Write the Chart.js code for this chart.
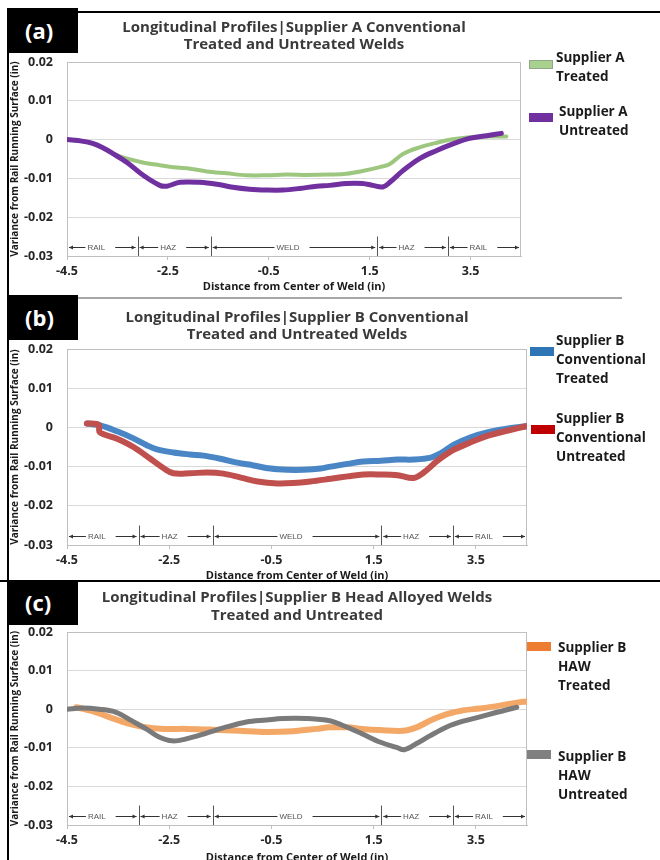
<!DOCTYPE html>
<html lang="en">
<head>
<meta charset="UTF-8">
<title>Longitudinal Profiles</title>
<script src="https://cdn.jsdelivr.net/npm/chart.js"></script>
<style>
    body {
        margin: 0;
        width: 660px;
        height: 860px;
        position: relative;
        overflow: hidden;
        background: #fff;
        font-family: "Open Sans", sans-serif;
    }
    canvas { position: absolute; left: 0; }
    .tag {
        position: absolute;
        left: 7px;
        width: 71px;
        height: 45px;
        background: #000;
        color: #fff;
        font-weight: bold;
        font-size: 22px;
        line-height: 44px;
        padding-left: 18px;
        box-sizing: border-box;
    }
    .legend {
        position: absolute;
        left: 556px;
        font-weight: bold;
        font-size: 13.5px;
        line-height: 19px;
        color: #1a1a1a;
    }
    .swatch { position: absolute; width: 24px; height: 9px; }
    .rule { position: absolute; }
</style>
</head>
<body>

<div class="rule" style="left:7px;top:11px;width:2px;height:860px;background:#000"></div>
<div class="rule" style="left:78px;top:11px;width:582px;height:2px;background:#000"></div>
<div class="rule" style="left:9px;top:297px;width:613px;height:2px;background:#a6a6a6"></div>
<div class="rule" style="left:0;top:580px;width:660px;height:2px;background:#000"></div>

<canvas id="chartA" width="660" height="296" style="top:0"></canvas>
<canvas id="chartB" width="660" height="284" style="top:298px"></canvas>
<canvas id="chartC" width="660" height="282" style="top:582px"></canvas>

<div class="tag" style="top:8px">(a)</div>
<div class="tag" style="top:295px">(b)</div>
<div class="tag" style="top:580px">(c)</div>

<!-- legends -->
<div class="swatch" style="left:529px;top:60px;background:#a9d18e;border:1px solid #8fa889;box-sizing:border-box"></div>
<div class="legend" style="top:48px">Supplier A<br>Treated</div>
<div class="swatch" style="left:529px;top:113px;background:#7030a0"></div>
<div class="legend" style="top:102px;left:559px">Supplier A<br>Untreated</div>

<div class="swatch" style="left:530px;top:347px;background:#2e75b6"></div>
<div class="legend" style="top:331px">Supplier B<br>Conventional<br>Treated</div>
<div class="swatch" style="left:531px;top:425px;background:#c00000"></div>
<div class="legend" style="top:409px">Supplier B<br>Conventional<br>Untreated</div>

<div class="swatch" style="left:527px;top:642px;background:#ed7d31"></div>
<div class="legend" style="top:638px;left:558px">Supplier B<br>HAW<br>Treated</div>
<div class="swatch" style="left:527px;top:750px;background:#808080"></div>
<div class="legend" style="top:747px;left:558px">Supplier B<br>HAW<br>Untreated</div>

<script>
// axes
const xTicks = [-4.5, -2.5, -0.5, 1.5, 3.5];
const yTicks = [0.02, 0.01, 0, -0.01, -0.02, -0.03];

// RAIL / HAZ / WELD markers along the bottom
const zoneNames = ['RAIL', 'HAZ', 'WELD', 'HAZ', 'RAIL'];
const zoneEdges = [-4.5, -3.1, -1.65, 1.65, 3.05, 4.5];
const zoneLevel = -0.0277;

// (a) Supplier A conventional
const aUntreatedX = [-4.5, -4.2, -3.99, -3.79, -3.59, -3.31, -2.99, -2.66, -2.52, -2.26, -1.87, -1.53, -1.21, -0.88, -0.54, -0.22, 0.11, 0.45, 0.71, 1.04, 1.36, 1.56, 1.76, 1.9, 2.16, 2.49, 2.83, 3.15, 3.48, 3.82, 4.11];
const aUntreatedY = [0, -0.0004, -0.001, -0.0021, -0.0036, -0.0059, -0.0092, -0.0118, -0.012, -0.011, -0.011, -0.0115, -0.0123, -0.0128, -0.013, -0.013, -0.0126, -0.012, -0.0118, -0.0113, -0.0113, -0.0118, -0.0122, -0.011, -0.008, -0.0049, -0.0028, -0.0011, 0.0003, 0.001, 0.0016];
const aTreatedX = [-4.5, -4.2, -3.99, -3.79, -3.59, -3.39, -3.0, -2.66, -2.32, -2.06, -1.73, -1.33, -0.94, -0.54, -0.15, 0.25, 0.71, 1.04, 1.36, 1.7, 1.9, 2.16, 2.49, 2.83, 3.15, 3.48, 3.82, 4.21];
const aTreatedY = [0, -0.0004, -0.001, -0.0021, -0.0036, -0.0046, -0.0059, -0.0066, -0.0072, -0.0075, -0.0082, -0.0087, -0.0092, -0.0092, -0.009, -0.0091, -0.009, -0.0088, -0.0081, -0.0071, -0.0063, -0.0037, -0.002, -0.0008, 0.0001, 0.0006, 0.0008, 0.0008];

// (b) Supplier B conventional
const bTreatedX = [-4.11, -3.85, -3.52, -3.2, -2.93, -2.74, -2.42, -2.09, -1.83, -1.5, -1.17, -0.85, -0.52, -0.19, 0.13, 0.46, 0.66, 0.99, 1.3, 1.64, 1.97, 2.28, 2.62, 2.81, 3.07, 3.4, 3.74, 4.13, 4.48];
const bTreatedY = [0.001, 0.0005, -0.001, -0.0028, -0.0046, -0.0056, -0.0064, -0.0069, -0.0072, -0.008, -0.009, -0.0097, -0.0105, -0.0108, -0.0108, -0.0105, -0.01, -0.0093, -0.0087, -0.0085, -0.0082, -0.0082, -0.0077, -0.0066, -0.0044, -0.0025, -0.0012, -0.0003, 0.0003];
const bUntreatedX = [-4.11, -3.88, -3.86, -3.52, -3.2, -2.87, -2.6, -2.42, -2.09, -1.76, -1.44, -1.1, -0.77, -0.38, -0.07, 0.26, 0.66, 0.99, 1.3, 1.64, 1.97, 2.28, 2.48, 2.75, 3.07, 3.4, 3.74, 4.13, 4.48];
const bUntreatedY = [0.001, 0.0007, -0.0012, -0.0029, -0.005, -0.008, -0.0105, -0.0117, -0.0117, -0.0115, -0.0118, -0.0128, -0.0138, -0.0143, -0.0142, -0.0138, -0.0131, -0.0125, -0.012, -0.012, -0.0122, -0.0129, -0.0115, -0.0085, -0.0057, -0.0038, -0.0021, -0.0008, 0.0003];

// (c) Supplier B head alloyed
const cTreatedX = [-4.32, -4.0, -3.66, -3.33, -3.0, -2.6, -2.17, -1.66, -1.13, -0.6, -0.09, 0.38, 0.64, 0.97, 1.28, 1.62, 2.07, 2.34, 2.6, 2.93, 3.25, 3.58, 3.91, 4.3, 4.5];
const cTreatedY = [0.0005, -0.0005, -0.0021, -0.0036, -0.0046, -0.0051, -0.0051, -0.0053, -0.0056, -0.0059, -0.0057, -0.0051, -0.0047, -0.0047, -0.0051, -0.0054, -0.0056, -0.0047, -0.003, -0.0013, -0.0003, 0.0002, 0.0008, 0.0017, 0.002];
const cUntreatedX = [-4.5, -4.2, -3.87, -3.54, -3.22, -2.95, -2.7, -2.44, -2.17, -1.77, -1.38, -0.99, -0.6, -0.28, 0.19, 0.64, 0.97, 1.28, 1.62, 1.95, 2.1, 2.34, 2.6, 2.93, 3.25, 3.58, 3.91, 4.3];
const cUntreatedY = [0, 0.0003, 0, -0.0008, -0.0031, -0.0051, -0.0072, -0.0082, -0.0077, -0.0062, -0.0046, -0.0033, -0.0028, -0.0024, -0.0024, -0.003, -0.0046, -0.0064, -0.0085, -0.0099, -0.0105, -0.0089, -0.0069, -0.0046, -0.0031, -0.002, -0.0008, 0.0005];

function pts(xs, ys) {
    return xs.map((x, i) => ({ x: x, y: ys[i] }));
}

function series(label, xs, ys, color, width, order) {
    return {
        label: label,
        data: pts(xs, ys),
        borderColor: color,
        borderWidth: width,
        pointRadius: 0,
        tension: 0.35,
        borderCapStyle: 'round',
        borderJoinStyle: 'round',
        order: order
    };
}

const FONT = '"Open Sans", sans-serif';

// grey frame round the plot
const frameBox = {
    id: 'frameBox',
    beforeDatasetsDraw(chart) {
        const a = chart.chartArea;
        const ctx = chart.ctx;
        ctx.save();
        ctx.strokeStyle = '#bfbfbf';
        ctx.lineWidth = 1;
        ctx.strokeRect(a.left + 0.5, a.top + 0.5, a.right - a.left - 1, a.bottom - a.top);
        ctx.restore();
    }
};

function arrowHead(ctx, x, y, dir) {
    ctx.beginPath();
    ctx.moveTo(x, y);
    ctx.lineTo(x - 4 * dir, y - 2);
    ctx.lineTo(x - 4 * dir, y + 2);
    ctx.closePath();
    ctx.fill();
}

const zones = {
    id: 'zones',
    beforeDatasetsDraw(chart) {
        const ctx = chart.ctx;
        const xs = chart.scales.x, ys = chart.scales.y;
        const yy = Math.round(ys.getPixelForValue(zoneLevel)) + 0.5;
        ctx.save();
        ctx.strokeStyle = '#333';
        ctx.fillStyle = '#333';
        ctx.lineWidth = 1;
        ctx.font = '8px "Liberation Sans", sans-serif';
        ctx.textAlign = 'center';
        ctx.textBaseline = 'middle';
        for (let i = 0; i < zoneNames.length; i++) {
            const x0 = xs.getPixelForValue(zoneEdges[i]) + 2;
            const x1 = xs.getPixelForValue(zoneEdges[i + 1]) - 2;
            const w = ctx.measureText(zoneNames[i]).width;
            const cx = (x0 + x1) / 2 - 6;
            ctx.beginPath();
            ctx.moveTo(x0, yy); ctx.lineTo(cx - w / 2 - 2, yy);
            ctx.moveTo(cx + w / 2 + 10, yy); ctx.lineTo(x1, yy);
            ctx.stroke();
            arrowHead(ctx, x0, yy, -1);
            arrowHead(ctx, x1, yy, 1);
            ctx.fillStyle = '#555';
            ctx.fillText(zoneNames[i], cx, yy);
            ctx.fillStyle = '#333';
        }
        ctx.strokeStyle = '#555';
        for (let i = 1; i < zoneEdges.length - 1; i++) {
            const px = Math.round(xs.getPixelForValue(zoneEdges[i])) + 0.5;
            ctx.beginPath();
            ctx.moveTo(px, yy - 11);
            ctx.lineTo(px, chart.chartArea.bottom);
            ctx.stroke();
        }
        ctx.restore();
    }
};

// g: geometry of the panel inside its canvas
function makeChart(id, titleLines, datasets, g) {
    return new Chart(document.getElementById(id), {
        type: 'line',
        data: { datasets: datasets },
        plugins: [frameBox, zones],
        options: {
            responsive: false,
            animation: false,
            layout: { padding: { left: 0, right: g.right, top: g.top, bottom: 0 } },
            plugins: {
                legend: { display: false },
                tooltip: { enabled: false },
                title: {
                    display: true,
                    fullSize: false,
                    text: titleLines,
                    color: '#3a3a3a',
                    font: { family: FONT, size: 15, weight: 'bold', lineHeight: g.titleLh },
                    padding: { top: 0, bottom: g.titleGap }
                }
            },
            scales: {
                x: {
                    type: 'linear',
                    min: -4.5,
                    max: 4.5,
                    afterBuildTicks: s => { s.ticks = xTicks.map(v => ({ value: v })); },
                    afterFit: s => { s.height = g.xHeight; },
                    ticks: {
                        color: '#262626',
                        padding: 4,
                        maxRotation: 0,
                        font: { family: FONT, size: 12.5, weight: 'bold' },
                        callback: v => String(v)
                    },
                    grid: { drawOnChartArea: false, tickLength: 4, color: '#bfbfbf' },
                    border: { color: '#bfbfbf' },
                    title: {
                        display: true,
                        text: 'Distance from Center of Weld (in)',
                        color: '#1a1a1a',
                        font: { family: FONT, size: 11, weight: 'bold', lineHeight: 1.2 },
                        padding: { top: 0, bottom: g.xTitlePad }
                    }
                },
                y: {
                    min: -0.03,
                    max: 0.02,
                    afterBuildTicks: s => { s.ticks = yTicks.map(v => ({ value: v })); },
                    afterFit: s => { s.width = 67; },
                    ticks: {
                        color: '#262626',
                        padding: 14,
                        font: { family: FONT, size: 12.5, weight: 'bold' },
                        callback: v => (Math.abs(v) < 1e-9 ? '0' : v.toFixed(2))
                    },
                    grid: { color: '#d9d9d9', drawTicks: false },
                    border: { color: '#bfbfbf' },
                    title: {
                        display: true,
                        text: 'Variance from Rail Running Surface (in)',
                        color: '#1a1a1a',
                        font: { family: FONT, size: 10, weight: 'bold', lineHeight: 1.2 },
                        padding: { top: 9, bottom: 0 }
                    }
                }
            }
        }
    });
}

makeChart('chartA',
    ['Longitudinal Profiles|Supplier A Conventional', 'Treated and Untreated Welds'],
    [
        series('Supplier A Treated', aTreatedX, aTreatedY, '#9dc77f', 4, 1),
        series('Supplier A Untreated', aUntreatedX, aUntreatedY, '#7030a0', 5, 0)
    ],
    { right: 139, top: 19.5, titleLh: 17 / 15, titleGap: 8.5, xHeight: 40, xTitlePad: 2.4 });

makeChart('chartB',
    ['Longitudinal Profiles|Supplier B Conventional', 'Treated and Untreated Welds'],
    [
        series('Supplier B Conventional Treated', bTreatedX, bTreatedY, '#4a86c5', 6, 1),
        series('Supplier B Conventional Untreated', bUntreatedX, bUntreatedY, '#c0504d', 6, 0)
    ],
    { right: 133, top: 11.5, titleLh: 17 / 15, titleGap: 5.5, xHeight: 37, xTitlePad: 0 });

makeChart('chartC',
    ['Longitudinal Profiles|Supplier B Head Alloyed Welds', 'Treated and Untreated'],
    [
        series('Supplier B HAW Treated', cTreatedX, cTreatedY, '#f4a868', 6, 1),
        series('Supplier B HAW Untreated', cUntreatedX, cUntreatedY, '#7a7a7a', 5, 0)
    ],
    { right: 133, top: 7, titleLh: 1.2, titleGap: 7, xHeight: 39, xTitlePad: 0 });
</script>
</body>
</html>
